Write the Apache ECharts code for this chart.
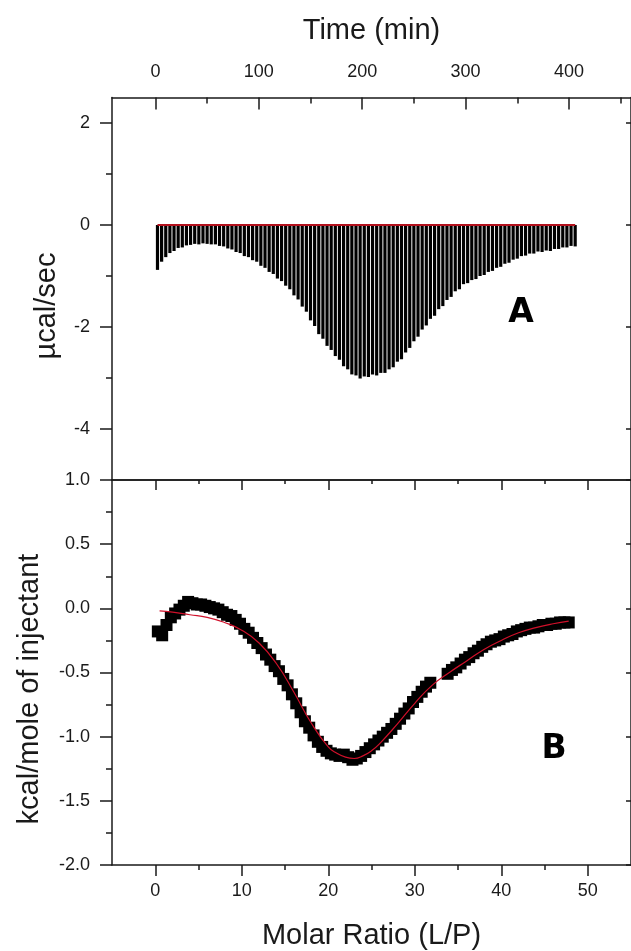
<!DOCTYPE html>
<html><head><meta charset="utf-8">
<script src="https://cdn.jsdelivr.net/npm/echarts@6/dist/echarts.min.js"></script>
<style>html,body{margin:0;padding:0;background:#fff}#c{width:631px;height:951px}</style>
</head><body><div id="c"></div>
<script>
// Panel A: raw ITC thermogram (injection time, min ; peak heat rate, µcal/sec)
const injectionTimes = [
  2,6,10,14,18,22,26,30,34,38,
  42,46,50,54,58,62,66,70,74,78,
  82,86,90,94,98,102,106,110,114,118,
  122,126,130,134,138,142,146,150,154,158,
  162,166,170,174,178,182,186,190,194,198,
  202,206,210,214,218,222,226,230,234,238,
  242,246,250,254,258,262,266,270,274,278,
  282,286,290,294,298,302,306,310,314,318,
  322,326,330,334,338,342,346,350,354,358,
  362,366,370,374,378,382,386,390,394,398,
  402,406];
const peakHeats = [
  -0.88,-0.72,-0.63,-0.55,-0.51,-0.45,-0.44,-0.40,-0.39,-0.37,
  -0.38,-0.36,-0.37,-0.38,-0.38,-0.41,-0.42,-0.46,-0.48,-0.53,
  -0.55,-0.61,-0.63,-0.69,-0.72,-0.80,-0.84,-0.92,-0.96,-1.05,
  -1.10,-1.19,-1.26,-1.38,-1.46,-1.60,-1.70,-1.87,-1.98,-2.14,
  -2.23,-2.37,-2.45,-2.57,-2.64,-2.77,-2.83,-2.93,-2.95,-3.01,
  -2.97,-2.98,-2.93,-2.95,-2.90,-2.90,-2.83,-2.79,-2.68,-2.63,
  -2.50,-2.41,-2.28,-2.19,-2.05,-1.97,-1.84,-1.78,-1.65,-1.59,
  -1.47,-1.41,-1.30,-1.26,-1.16,-1.14,-1.08,-1.06,-1.00,-0.98,
  -0.92,-0.90,-0.84,-0.82,-0.76,-0.74,-0.68,-0.66,-0.61,-0.60,
  -0.56,-0.56,-0.52,-0.53,-0.50,-0.51,-0.47,-0.47,-0.44,-0.44,
  -0.41,-0.42];
const baselineTimes = [2, 406];
const baselineValues = [0, 0];

// Panel B: integrated heats (molar ratio L/P ; kcal/mole of injectant)
const molarRatio = [
  0.3,0.8,1.3,1.8,2.3,2.8,3.3,3.8,4.3,4.8,
  5.3,5.8,6.3,6.8,7.3,7.8,8.3,8.8,9.3,9.8,
  10.3,10.8,11.3,11.8,12.3,12.8,13.3,13.8,14.3,14.8,
  15.3,15.8,16.3,16.8,17.3,17.8,18.3,18.8,19.3,19.8,
  20.3,20.8,21.3,21.8,22.3,22.8,23.3,23.8,24.3,24.8,
  25.3,25.8,26.3,26.8,27.3,27.8,28.3,28.8,29.3,29.8,
  30.3,30.8,31.3,31.8,33.8,34.3,34.8,35.3,35.8,36.3,
  36.8,37.3,37.8,38.3,38.8,39.3,39.8,40.3,40.8,41.3,
  41.8,42.3,42.8,43.3,43.8,44.3,44.8,45.3,45.8,46.3,
  46.8,47.3,47.8];
const integratedHeat = [
  -0.18,-0.21,-0.13,-0.07,-0.04,-0.01,0.02,0.05,0.04,0.03,
  0.03,0.02,0.01,0.00,-0.01,-0.03,-0.05,-0.06,-0.09,-0.12,
  -0.16,-0.19,-0.23,-0.27,-0.31,-0.36,-0.40,-0.45,-0.49,-0.55,
  -0.60,-0.67,-0.74,-0.81,-0.88,-0.93,-0.99,-1.04,-1.08,-1.11,
  -1.13,-1.14,-1.15,-1.14,-1.16,-1.18,-1.17,-1.15,-1.12,-1.09,
  -1.06,-1.03,-1.00,-0.97,-0.94,-0.90,-0.86,-0.82,-0.78,-0.73,
  -0.69,-0.65,-0.61,-0.58,-0.51,-0.48,-0.46,-0.43,-0.40,-0.38,
  -0.35,-0.33,-0.30,-0.28,-0.26,-0.25,-0.24,-0.22,-0.21,-0.20,
  -0.18,-0.17,-0.16,-0.15,-0.15,-0.14,-0.13,-0.13,-0.12,-0.12,
  -0.11,-0.11,-0.11];
const fitRatio = [0.5,2,4,6,8,10,12,14,16,18,20,21,22,23,24,25,26,28,30,32,34,36,38,40,42,44,46,47.8];
const fitHeat = [-0.02,-0.03,-0.05,-0.07,-0.11,-0.17,-0.27,-0.43,-0.65,-0.89,-1.08,-1.13,-1.16,-1.17,-1.15,-1.11,-1.05,-0.90,-0.74,-0.60,-0.50,-0.41,-0.32,-0.25,-0.19,-0.15,-0.12,-0.10];

// Tick labels
const timeTicks = [0,100,200,300,400];
const timeMinorTicks = [50,150,250,350,450];
const heatRateTicks = [2,0,-2,-4];
const heatRateMinorTicks = [1,-1,-3];
const ratioTicks = [0,10,20,30,40,50];
const ratioMinorTicks = [5,15,25,35,45];

const AX = '#1a1a1a';
const FONT = 'Liberation Sans';
const lineStyle = {color: AX, width: 1.5};
const labelStyle = {color: AX, fontSize: 18, fontFamily: FONT};
const nameStyle = {color: AX, fontSize: 29, fontFamily: FONT};

const chart = echarts.init(document.getElementById('c'), null, {renderer: 'canvas'});
const zip = (a, b) => a.map((v, i) => [v, b[i]]);

chart.setOption({
  animation: false,
  backgroundColor: '#fff',
  grid: [
    {left: 112, top: 97.5, width: 520, height: 382.5},
    {left: 112, top: 480, width: 520, height: 387}
  ],
  xAxis: [
    {gridIndex: 0, type: 'value', position: 'top', min: -42, max: 460,
     axisLine: {show: true, onZero: false, lineStyle},
     axisTick: {show: true, inside: true, length: 12, customValues: timeTicks, lineStyle},
     axisLabel: {show: true, customValues: timeTicks, margin: 16, ...labelStyle},
     splitLine: {show: false},
     name: 'Time (min)', nameLocation: 'middle', nameGap: 52, nameTextStyle: nameStyle},
    {gridIndex: 0, type: 'value', position: 'top', min: -42, max: 460,
     axisLine: {show: false, onZero: false},
     axisTick: {show: true, inside: true, length: 6, customValues: timeMinorTicks, lineStyle},
     axisLabel: {show: false}, splitLine: {show: false}},
    {gridIndex: 0, type: 'value', position: 'bottom', min: -42, max: 460,
     axisLine: {show: true, onZero: false, lineStyle},
     axisTick: {show: false}, axisLabel: {show: false}, splitLine: {show: false}},
    {gridIndex: 1, type: 'value', position: 'bottom', min: -5, max: 55,
     axisLine: {show: true, onZero: false, lineStyle},
     axisTick: {show: true, length: 11, customValues: ratioTicks, lineStyle},
     axisLabel: {show: true, customValues: ratioTicks, margin: 17, ...labelStyle},
     splitLine: {show: false},
     name: 'Molar Ratio (L/P)', nameLocation: 'middle', nameGap: 56, nameTextStyle: nameStyle},
    {gridIndex: 1, type: 'value', position: 'bottom', min: -5, max: 55,
     axisLine: {show: false, onZero: false},
     axisTick: {show: true, length: 5, customValues: ratioMinorTicks, lineStyle},
     axisLabel: {show: false}, splitLine: {show: false}},
    {gridIndex: 1, type: 'value', position: 'top', min: -5, max: 55,
     axisLine: {show: true, onZero: false, lineStyle},
     axisTick: {show: true, inside: true, length: 10, customValues: ratioTicks, lineStyle},
     axisLabel: {show: false}, splitLine: {show: false}},
    {gridIndex: 1, type: 'value', position: 'top', min: -5, max: 55,
     axisLine: {show: false, onZero: false},
     axisTick: {show: true, inside: true, length: 4, customValues: ratioMinorTicks, lineStyle},
     axisLabel: {show: false}, splitLine: {show: false}}
  ],
  yAxis: [
    {gridIndex: 0, type: 'value', position: 'left', min: -5, max: 2.5,
     axisLine: {show: true, onZero: false, lineStyle},
     axisTick: {show: true, length: 12, customValues: heatRateTicks, lineStyle},
     axisLabel: {show: true, customValues: heatRateTicks, margin: 22, ...labelStyle},
     splitLine: {show: false}},
    {gridIndex: 0, type: 'value', position: 'left', min: -5, max: 2.5,
     axisLine: {show: false, onZero: false},
     axisTick: {show: true, length: 6, customValues: heatRateMinorTicks, lineStyle},
     axisLabel: {show: false}, splitLine: {show: false}},
    {gridIndex: 0, type: 'value', position: 'right', min: -5, max: 2.5,
     axisLine: {show: true, onZero: false, lineStyle},
     axisTick: {show: true, inside: true, length: 5, customValues: heatRateTicks, lineStyle},
     axisLabel: {show: false}, splitLine: {show: false}},
    {gridIndex: 1, type: 'value', position: 'left', min: -2, max: 1, interval: 0.5,
     axisLine: {show: true, onZero: false, lineStyle},
     axisTick: {show: true, length: 12, lineStyle},
     minorTick: {show: true, splitNumber: 2, length: 6, lineStyle},
     axisLabel: {show: true, margin: 22, formatter: v => v.toFixed(1), ...labelStyle},
     splitLine: {show: false}, minorSplitLine: {show: false}},
    {gridIndex: 1, type: 'value', position: 'right', min: -2, max: 1, interval: 0.5,
     axisLine: {show: true, onZero: false, lineStyle},
     axisTick: {show: true, inside: true, length: 5, lineStyle},
     axisLabel: {show: false}, splitLine: {show: false}}
  ],
  graphic: [
    {type: 'text', x: 47, y: 306, rotation: Math.PI / 2,
     style: {text: 'µcal/sec', fill: AX, font: '29px "Liberation Sans"', align: 'center', verticalAlign: 'middle'}},
    {type: 'text', x: 30, y: 689, rotation: Math.PI / 2,
     style: {text: 'kcal/mole of injectant', fill: AX, font: '29px "Liberation Sans"', align: 'center', verticalAlign: 'middle'}},
    {type: 'text', x: 521, y: 313,
     style: {text: 'A', fill: '#000', font: 'bold 33px "DejaVu Sans"', align: 'center', verticalAlign: 'middle'}},
    {type: 'text', x: 554, y: 749,
     style: {text: 'B', fill: '#000', font: 'bold 33px "DejaVu Sans"', align: 'center', verticalAlign: 'middle'}}
  ],
  series: [
    {type: 'bar', xAxisIndex: 0, yAxisIndex: 0, barWidth: 3.2,
     itemStyle: {color: '#000'}, data: zip(injectionTimes, peakHeats), z: 2},
    {type: 'line', xAxisIndex: 0, yAxisIndex: 0, symbol: 'none',
     lineStyle: {color: '#b3101c', width: 2}, data: zip(baselineTimes, baselineValues), z: 3},
    {type: 'scatter', xAxisIndex: 3, yAxisIndex: 3, symbol: 'rect', symbolSize: 12,
     itemStyle: {color: '#000', opacity: 1}, data: zip(molarRatio, integratedHeat), z: 2},
    {type: 'line', xAxisIndex: 3, yAxisIndex: 3, symbol: 'none', smooth: true,
     lineStyle: {color: '#d0102a', width: 1.2}, data: zip(fitRatio, fitHeat), z: 3}
  ]
});
</script></body></html>
